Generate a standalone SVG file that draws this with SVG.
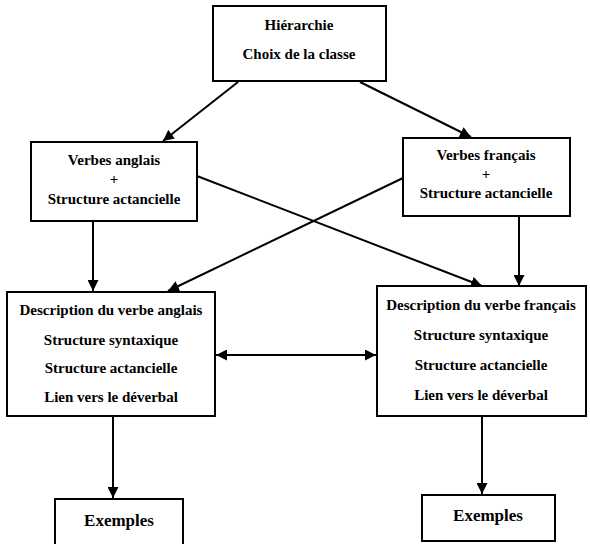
<svg xmlns="http://www.w3.org/2000/svg" width="590" height="544" viewBox="0 0 590 544">
<defs>
<marker id="ah" viewBox="0 0 10 10" refX="10" refY="5" markerWidth="5.5" markerHeight="5.5" orient="auto-start-reverse" markerUnits="strokeWidth">
<path d="M0,0 L10,5 L0,10 z" fill="#000"/>
</marker>
</defs>
<style>
.box{fill:#fff;stroke:#000;stroke-width:2}
.t{font-family:"Liberation Serif","Times New Roman",serif;font-size:15px;font-weight:bold;fill:#000;text-anchor:middle;dominant-baseline:central}
.big{font-size:17px}
.c{stroke:#000;stroke-width:2;fill:none;marker-end:url(#ah)}
</style>
<rect width="590" height="544" fill="#fff"/>
<g id="connectors">
<line class="c" x1="238" y1="82" x2="163" y2="141"/>
<line class="c" x1="360" y1="82" x2="471" y2="137"/>
<line class="c" x1="93" y1="222" x2="93" y2="291"/>
<line class="c" x1="519" y1="216" x2="519" y2="286"/>
<line class="c" x1="197" y1="176" x2="482" y2="286"/>
<line class="c" x1="403" y1="178" x2="168" y2="291"/>
<line class="c" x1="216" y1="355" x2="376" y2="355" marker-start="url(#ah)"/>
<line class="c" x1="113" y1="417" x2="113" y2="498"/>
<line class="c" x1="482" y1="417" x2="482" y2="494"/>
</g>
<g id="n-hierarchie">
<rect class="box" x="213" y="6" width="173" height="75"/>
<text class="t" x="299" y="25">Hiérarchie</text>
<text class="t" x="299" y="54">Choix de la classe</text>
</g>
<g id="n-verbes-anglais">
<rect class="box" x="31" y="142" width="166" height="79"/>
<text class="t" x="114" y="160">Verbes anglais</text>
<text class="t" x="114" y="179">+</text>
<text class="t" x="114" y="199">Structure actancielle</text>
</g>
<g id="n-verbes-francais">
<rect class="box" x="403" y="138" width="167" height="78"/>
<text class="t" x="486" y="155">Verbes français</text>
<text class="t" x="486" y="174">+</text>
<text class="t" x="486" y="193">Structure actancielle</text>
</g>
<g id="n-desc-anglais">
<rect class="box" x="7" y="292" width="208" height="124"/>
<text class="t" x="111" y="310">Description du verbe anglais</text>
<text class="t" x="111" y="340">Structure syntaxique</text>
<text class="t" x="111" y="368">Structure actancielle</text>
<text class="t" x="111" y="397">Lien vers le déverbal</text>
</g>
<g id="n-desc-francais">
<rect class="box" x="377" y="286" width="209" height="130"/>
<text class="t" x="481" y="305">Description du verbe français</text>
<text class="t" x="481" y="335">Structure syntaxique</text>
<text class="t" x="481" y="365">Structure actancielle</text>
<text class="t" x="481" y="395">Lien vers le déverbal</text>
</g>
<g id="n-exemples-1">
<rect class="box" x="55" y="499" width="128" height="50"/>
<text class="t big" x="119" y="520">Exemples</text>
</g>
<g id="n-exemples-2">
<rect class="box" x="422" y="495" width="133" height="46"/>
<text class="t big" x="488" y="515">Exemples</text>
</g>
</svg>
